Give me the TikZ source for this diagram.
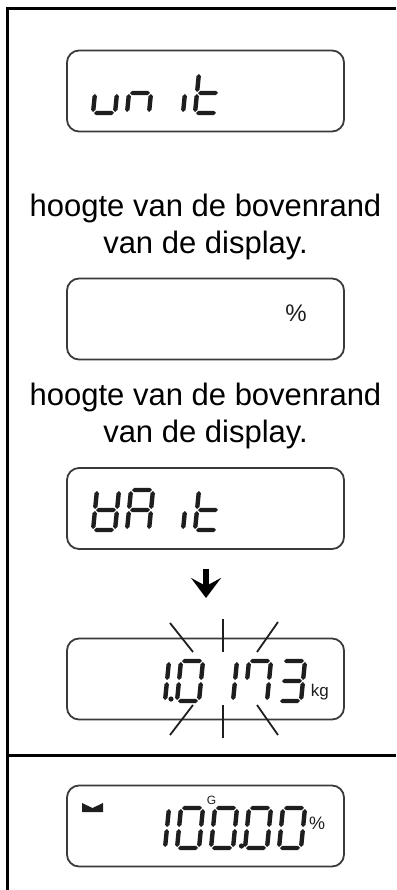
\documentclass[tikz,border=0pt]{standalone}
\usepackage{fontspec}
\setmainfont{Liberation Sans}
\usetikzlibrary{arrows.meta, positioning}
\definecolor{cink}{HTML}{1E1E1E}
\definecolor{cedge}{HTML}{3A3A3A}
\tikzset{
  every picture/.style={line width=1.6pt},
  lcd/.style={draw=cedge, rounded corners=12pt, minimum width=277pt, minimum height=81pt, line width=1.8pt},
  caption/.style={font=\fontsize{31}{37}\selectfont, align=center, inner sep=0pt},
  cellline/.style={draw=black, line width=3pt},
  ray/.style={draw=cink, line width=1.8pt},
  down/.style={-{Stealth[length=20pt, width=30pt, inset=8pt]}, draw=black, line width=5.5pt},
  unitlbl/.style={text=cink, inner sep=0pt},
}

\begin{document}
\begin{tikzpicture}[x=1pt, y=-1pt]
  \useasboundingbox (0,0) rectangle (396,890);
  % helper: one lcd segment as a hexagon (horizontal: x from, x to, y / vertical: x, y from, y to)
  \newcommand{\hseg}[3]{\fill[cink] (#1,#3) -- (#1+2.2,#3+2.2) -- (#2-2.2,#3+2.2) -- (#2,#3) -- (#2-2.2,#3-2.2) -- (#1+2.2,#3-2.2) -- cycle;}
  \newcommand{\vseg}[3]{\fill[cink] (#1,#2) -- (#1+2.2,#2+2.2) -- (#1+2.2,#3-2.2) -- (#1,#3) -- (#1-2.2,#3-2.2) -- (#1-2.2,#2+2.2) -- cycle;}
  \newcommand{\sega}{\hseg{1}{21}{40}}
  \newcommand{\segb}{\vseg{22}{21}{39}}
  \newcommand{\segc}{\vseg{22}{1}{19}}
  \newcommand{\segd}{\hseg{1}{21}{0}}
  \newcommand{\sege}{\vseg{0}{1}{19}}
  \newcommand{\segf}{\vseg{0}{21}{39}}
  \newcommand{\segg}{\hseg{1}{21}{20}}
  % helper: seven segment character, bottom left corner at (#1,#2), #3 list of lit segments
  \newcommand{\lcdchar}[3]{%
    \begin{scope}[shift={(#1,#2)}, y=1pt, xslant=0.1]
      \foreach \s in {#3} {\csname seg\s\endcsname}
    \end{scope}}
  % table cell lines
  \draw[cellline] (396,8.5) -- (7,8.5) -- (7,890);
  \draw[cellline] (7,755) -- (396,755);
  % (1) unit
  \node[lcd] (unitdisp) at (205.5,91) {};
  \lcdchar{93}{113}{c,d,e}
  \lcdchar{127}{113}{c,e,g}
  \lcdchar{161}{113}{c}
  \lcdchar{195}{113}{d,e,f,g}
  \node[caption] (note1) at (205.5,227) {hoogte van de bovenrand\\van de display.};
  % (2) empty display with percent
  \node[lcd] (pctdisp) at (205.5,319) {};
  \node[unitlbl, font=\fontsize{24}{24}\selectfont] (pct1) at (296,313) {\%};
  \node[caption] (note2) at (205.5,416) {hoogte van de bovenrand\\van de display.};
  % (3) wait, then blinking value
  \node[lcd] (waitdisp) at (205.5,508.5) {};
  \lcdchar{93}{530}{b,c,d,e,f,g}
  \lcdchar{127}{530}{a,b,c,e,f,g}
  \lcdchar{161}{530}{c}
  \lcdchar{195}{530}{d,e,f,g}
  \coordinate (arrtop) at (206,569);
  \coordinate (arrbot) at (206,598);
  \draw[down] (arrtop) -- (arrbot);
  \node[lcd] (valdisp) at (205.5,679) {};
  \lcdchar{143}{701}{b,c}
  \fill[cink] (171,699) circle (2.6pt);
  \lcdchar{177}{701}{a,b,c,d,e,f}
  \lcdchar{211}{701}{b,c}
  \lcdchar{245}{701}{a,b,c,f}
  \lcdchar{279}{701}{a,b,c,d,g}
  \node[unitlbl, font=\fontsize{17}{17}\selectfont, anchor=base west] (kg) at (310,696) {kg};
  \foreach \xa/\ya/\xb/\yb in {170/623/193/652, 223/619/223/652, 278/622/257/652,
                               193/705/170/735, 223/705/223/738, 257/705/278/735}
    \draw[ray] (\xa,\ya) -- (\xb,\yb);
  % (4) result
  \node[lcd] (resdisp) at (205.5,826) {};
  \fill[cink] (82,803) -- (92.5,808) -- (103,803) -- (103,812) -- (82,812) -- cycle;
  \node[unitlbl, font=\fontsize{12}{12}\selectfont] (gross) at (211.5,800) {G};
  \lcdchar{143}{848}{b,c}
  \lcdchar{177}{848}{a,b,c,d,e,f}
  \lcdchar{211}{848}{a,b,c,d,e,f}
  \fill[cink] (241.5,846) circle (2.6pt);
  \lcdchar{245}{848}{a,b,c,d,e,f}
  \lcdchar{279}{848}{a,b,c,d,e,f}
  \node[unitlbl, font=\fontsize{18}{18}\selectfont] (pct2) at (317,823) {\%};
\end{tikzpicture}
\end{document}
